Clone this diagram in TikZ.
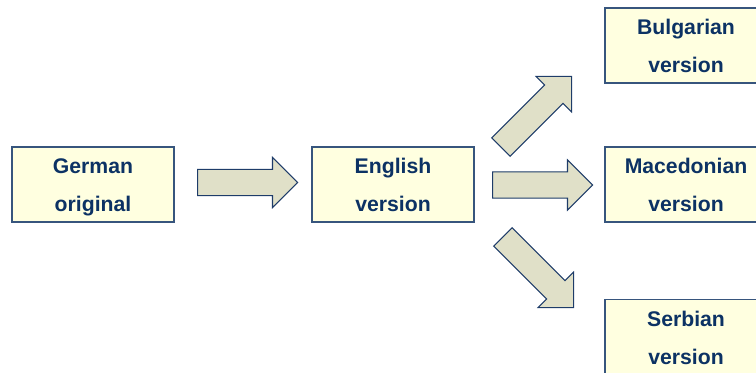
\documentclass[tikz,border=0pt]{standalone}
\usepackage{fontspec}
\setmainfont{Liberation Sans}
\usepackage{tikz}
\usetikzlibrary{shapes.arrows}
\definecolor{boxfill}{RGB}{255,255,224}
\definecolor{boxline}{RGB}{55,85,125}
\definecolor{txtblue}{RGB}{12,50,100}
\definecolor{arrfill}{RGB}{224,224,200}
\definecolor{arrline}{RGB}{30,60,105}

\begin{document}
\begin{tikzpicture}[x=0.75pt,y=0.75pt,
  langbox/.style={draw=boxline,line width=0.8pt,fill=boxfill,
    minimum width=121.5pt,minimum height=56.25pt,inner sep=0pt,align=center,
    font=\bfseries\fontsize{15.9}{28.5}\selectfont,text=txtblue,
    text height=45pt,text depth=3.75pt},
  blockarr/.style={single arrow,draw=arrline,line width=0.8pt,fill=arrfill,
    single arrow head extend=9pt,minimum height=75pt,
    inner xsep=0pt,inner ysep=9.4pt,anchor=tail}]
  \useasboundingbox (0,0) rectangle (756,373);

  % language boxes
  \node[langbox] (german)     at (93,188.5)  {German\\original};
  \node[langbox] (english)    at (393,188.5) {English\\version};
  \node[langbox] (bulgarian)  at (686,327.5) {Bulgarian\\version};
  \node[langbox] (macedonian) at (686,188.5) {Macedonian\\version};
  \node[langbox] (serbian)    at (686,36)    {Serbian\\version};

  % block arrows
  \node[blockarr]           (gerEng) at (197,190.5) {};
  \node[blockarr]           (engMac) at (492,188)   {};
  \node[blockarr,rotate=45] (engBul) at (500.5,225.5) {};
  \node[blockarr,rotate=-45](engSrb) at (502.5,136.5) {};
\end{tikzpicture}
\end{document}
